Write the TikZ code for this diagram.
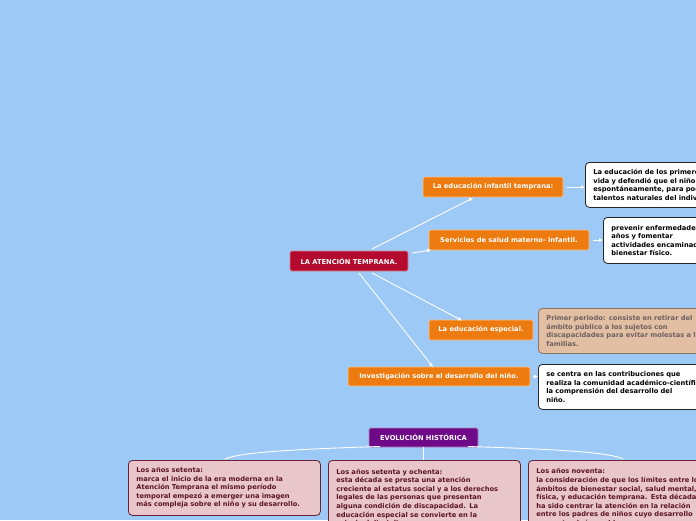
\documentclass[tikz,border=0pt]{standalone}
\usepackage{fontspec}
\setmainfont{DejaVu Sans}
\definecolor{bg}{HTML}{9CC9F5}
\definecolor{orangeb}{HTML}{EE7B10}
\definecolor{crimson}{HTML}{B30A2E}
\definecolor{purp}{HTML}{6E0987}
\definecolor{pinkb}{HTML}{E8C6CA}
\definecolor{pinkd}{HTML}{6A2236}
\definecolor{pinkt}{HTML}{5C1428}
\definecolor{tanb}{HTML}{E2BFA2}
\definecolor{tand}{HTML}{8C7464}
\definecolor{tant}{HTML}{6E6060}
\tikzset{
  txt/.style={font=\fontsize{6.7}{8.6}\selectfont\bfseries},
  topic/.style={txt, rounded corners=1.5pt, inner sep=0pt, text=white, align=center},
  orangebox/.style={topic, fill=orangeb, draw=white!55!orangeb, line width=0.6pt},
  crimbox/.style={topic, fill=crimson, draw=white!50!crimson, line width=0.6pt},
  purpbox/.style={topic, fill=purp, draw=white!50!purp, line width=0.6pt},
  notebox/.style={txt, rounded corners=4pt, align=left, anchor=north west, inner xsep=8pt, inner ysep=5pt, line width=0.8pt},
  whitebox/.style={notebox, fill=white, draw=black!85},
  tanbox/.style={notebox, fill=tanb, draw=tand, text=tant},
  pinkbox/.style={notebox, fill=pinkb, draw=pinkd, text=pinkt},
  conn/.style={white, line width=0.9pt, -{Latex[open,length=4pt,width=4pt]}},
  link/.style={white, line width=0.9pt},
}
\usetikzlibrary{arrows.meta}
\begin{document}
\begin{tikzpicture}[x=1pt,y=-1pt]
\useasboundingbox (0,0) rectangle (696,520);
\clip (0,0) rectangle (696,520);
\fill[bg] (0,0) rectangle (696,520);

% main topics
\node[crimbox, minimum width=118pt, minimum height=20pt] (main) at (349,261) {LA ATENCIÓN TEMPRANA.};
\node[orangebox, minimum width=140pt, minimum height=20pt] (o1) at (493,187) {La educación infantil temprana:};
\node[orangebox, minimum width=160pt, minimum height=20pt] (o2) at (509,240) {Servicios de salud materno- infantil.};
\node[orangebox, minimum width=104pt, minimum height=20pt] (o3) at (481,330) {La educación especial.};
\node[orangebox, minimum width=182pt, minimum height=19pt] (o4) at (439,376.5) {Investigación sobre el desarrollo del niño.};
\node[purpbox, minimum width=109pt, minimum height=19pt] (ev) at (423.5,437.5) {EVOLUCIÓN HISTÓRICA};

% notes
\node[whitebox, minimum height=45pt, text width=200pt] (w1) at (585,162) {La educación de los primeros años de\\vida y defendió que el niño debía\\espontáneamente, para poder\\talentos naturales del individuo.};
\node[whitebox, minimum height=46pt, text width=200pt] (w2) at (603,217) {prevenir enfermedades en los primeros\\años y fomentar\\actividades encaminadas al\\bienestar físico.};
\node[tanbox, minimum height=45pt, text width=200pt] (t3) at (538,308) {Primer periodo: consiste en retirar del\\ámbito público a los sujetos con\\discapacidades para evitar molestas a las\\familias.};
\node[whitebox, minimum height=45pt, text width=200pt] (w4) at (538,364) {se centra en las contribuciones que\\realiza la comunidad académico-científica a\\la comprensión del desarrollo del\\niño.};

\node[pinkbox, minimum height=55pt, text width=176pt] (p1) at (128,460) {Los años setenta:\\marca el inicio de la era moderna en la\\Atención Temprana el mismo período\\temporal empezó a emerger una imagen\\más compleja sobre el niño y su desarrollo.};
\node[pinkbox, minimum height=75pt, text width=176pt] (p2) at (328,460) {Los años setenta y ochenta:\\esta década se presta una atención\\creciente al estatus social y a los derechos\\legales de las personas que presentan\\alguna condición de discapacidad. La\\educación especial se convierte en la\\principal disciplina};
\node[pinkbox, minimum height=75pt, text width=200pt] (p3) at (528,460) {Los años noventa:\\la consideración de que los límites entre los\\ámbitos de bienestar social, salud mental,\\física, y educación temprana. Esta década\\ha sido centrar la atención en la relación\\entre los padres de niños cuyo desarrollo\\presenta algún problema};

% connectors
\draw[conn] (372,249) -- (473,198);
\draw[conn] (412,253) -- (431,250);
\draw[conn] (372,273) -- (462,320.5);
\draw[conn] (359,273) -- (433,367);
\draw[conn] (o1.east) ++(4,0) -- (w1.west |- o1.east);
\draw[conn] (o2.east) ++(4,0) -- (w2.west |- o2.east);
\draw[conn] (o4.east) ++(3,0) -- (w4.west |- o4.east);

\draw[link] (ev.south) -- (p2.north -| ev.south);
\draw[link] (380,446.5) .. controls (300,449) and (240,452) .. (225,459);
\draw[link] (468,446.5) .. controls (550,449) and (610,452) .. (623,459);
\end{tikzpicture}
\end{document}
